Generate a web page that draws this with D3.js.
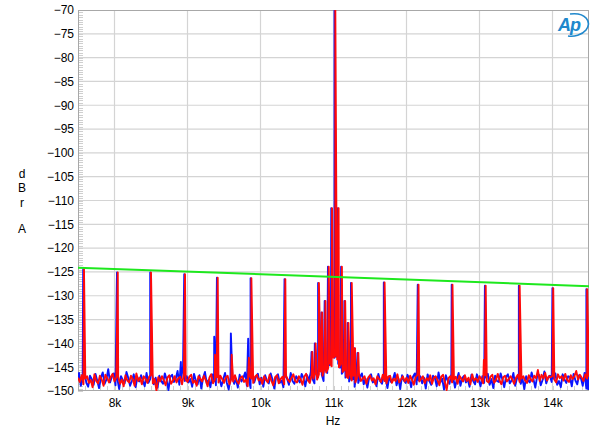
<!DOCTYPE html>
<html lang="en">
<head>
<meta charset="UTF-8">
<title>FFT spectrum</title>
<style>
    body { margin: 0; background: #fff; }
    svg text { font-family: "Liberation Sans", Arial, sans-serif; fill: #000; }
    .tick-label { font-size: 12px; }
</style>
<script src="https://cdn.jsdelivr.net/npm/d3@7"></script>
</head>
<body>
<script>
// noise floor, one value every 25 Hz from 7500 Hz to 14500 Hz
const freqStart = 7500;
const freqStep = 25;

const blueFloor = [
    -147.8,-146.2,-148.9,-147.1,-145.9,-148.3,-149.1,-146.8,-147.5,-148.7,-146.4,-147.9,-149.4,-147.2,-146.1,-148.5,-147.6,-145.4,-148.2,-147.0,
    -146.3,-148.8,-147.4,-149.6,-146.9,-147.7,-148.4,-146.0,-147.3,-148.9,-147.8,-146.5,-149.2,-147.1,-148.0,-146.7,-147.9,-149.0,-146.2,-148.3,
    -147.5,-146.4,-148.6,-147.2,-149.3,-146.8,-147.9,-148.5,-146.3,-147.6,-149.8,-147.0,-146.6,-148.1,-147.4,-145.8,-148.7,-147.3,-144.8,-147.9,
    -146.9,-148.2,-147.5,-149.1,-146.4,-147.8,-148.6,-146.7,-149.5,-147.2,-146.0,-148.4,-147.7,-149.2,-146.5,-147.9,-148.8,-146.3,-147.4,-149.0,
    -147.6,-146.2,-148.3,-149.7,-147.1,-146.8,-148.5,-147.4,-149.3,-146.6,-148.0,-147.3,-146.1,-148.9,-147.5,-149.4,-146.9,-148.2,-147.0,-146.4,
    -148.6,-147.2,-149.1,-146.7,-147.9,-148.4,-146.3,-147.6,-149.5,-147.0,-146.5,-148.3,-147.8,-149.2,-146.8,-147.4,-148.7,-146.2,-147.9,-148.5,
    -146.9,-147.6,-148.2,-146.4,-147.3,-149.0,-146.7,-147.8,-146.0,-147.5,-148.4,-146.3,-147.1,-145.8,-146.6,-147.9,-145.5,-146.2,-144.6,-143.8,
    -142.5,-143.0,-142.8,-144.2,-145.1,-146.4,-145.7,-147.2,-146.1,-148.0,-146.9,-147.5,-149.1,-146.6,-148.3,-147.0,-146.3,-148.6,-147.4,-149.3,
    -147.1,-146.5,-148.2,-147.7,-149.0,-146.4,-147.9,-148.5,-146.8,-147.3,-149.4,-146.9,-148.1,-147.6,-146.2,-148.8,-147.4,-149.6,-146.7,-147.8,
    -148.3,-146.6,-147.5,-149.2,-147.0,-146.3,-148.6,-147.7,-146.9,-148.4,-147.2,-149.5,-146.5,-147.9,-148.7,-146.8,-147.3,-149.0,-146.1,-148.2,
    -147.4,-149.7,-146.7,-147.8,-148.5,-146.4,-147.1,-149.3,-147.6,-146.2,-148.9,-147.3,-146.8,-148.2,-147.5,-149.1,-146.6,-147.9,-148.6,-146.5,
    -147.7,-149.0,-146.9,-148.3,-147.2,-146.4,-148.7,-147.5,-149.4,-146.8,-147.9,-148.1,-146.3,-147.6,-149.2,-147.0,-146.5,-148.4,-147.8,-146.2,
    -148.9,-147.3,-146.7,-148.5,-147.4,-149.6,-146.9,-147.8,-148.2,-146.1,-147.5,-149.3,-147.0,-146.6,-148.8,-147.7,-145.9,-148.4,-147.2,-146.8,
    -148.1,-147.4,-146.3,-148.7,-147.9,-149.2,-146.5,-147.6,-148.3,-146.9,-147.1,-149.0,-146.4,-147.8,-148.6,-146.7,-147.3,-148.9,-146.2,-149.5,
    -149.8
];

const redFloor = [
    -147.2,-148.1,-146.7,-148.6,-147.4,-146.9,-148.3,-147.7,-149.2,-146.5,-147.9,-148.4,-146.8,-147.6,-148.9,-146.6,-147.3,-148.2,-147.0,-146.4,
    -148.0,-147.1,-146.9,-148.5,-147.6,-149.0,-146.7,-147.8,-148.2,-146.8,-147.5,-148.9,-146.3,-147.9,-147.2,-148.6,-146.9,-147.4,-148.3,-147.0,
    -146.6,-148.4,-147.5,-149.9,-147.1,-148.0,-146.9,-147.7,-148.8,-147.2,-146.7,-148.5,-147.8,-146.9,-148.2,-147.3,-147.0,-148.6,-146.5,-147.6,
    -148.1,-147.0,-146.6,-148.3,-147.8,-148.9,-146.9,-147.4,-148.0,-146.8,-147.7,-149.0,-147.2,-146.5,-148.4,-147.6,-147.1,-148.2,-146.8,-147.5,
    -148.3,-147.1,-146.8,-148.6,-147.5,-148.0,-146.7,-147.9,-148.5,-147.2,-146.9,-148.1,-147.6,-149.0,-146.8,-147.4,-148.3,-147.0,-146.6,-147.8,
    -147.3,-148.5,-146.9,-147.7,-148.2,-146.6,-147.9,-148.8,-147.1,-146.7,-148.4,-147.5,-147.0,-148.6,-146.8,-147.6,-148.1,-147.2,-146.5,-147.9,
    -148.2,-146.9,-147.5,-148.7,-147.0,-146.4,-147.8,-148.3,-146.7,-147.4,-146.2,-147.6,-146.5,-145.9,-146.8,-145.4,-146.1,-145.3,-144.2,-144.8,
    -143.0,-142.6,-143.4,-145.0,-144.3,-146.0,-145.6,-146.9,-147.3,-146.5,-147.8,-146.8,-148.2,-147.1,-146.6,-147.9,-147.4,-146.9,-148.5,-147.2,
    -146.7,-147.8,-147.3,-148.6,-146.9,-147.5,-148.1,-146.6,-147.9,-148.4,-147.0,-146.8,-148.3,-147.4,-147.9,-146.5,-148.2,-147.6,-146.9,-148.0,
    -147.2,-148.3,-146.8,-147.6,-148.7,-147.1,-146.6,-148.0,-147.5,-146.9,-148.4,-147.3,-147.8,-146.7,-148.5,-147.2,-146.9,-147.7,-148.8,-147.0,
    -146.6,-148.1,-149.8,-147.3,-146.9,-148.2,-147.6,-147.0,-148.5,-146.8,-147.4,-148.0,-146.7,-147.9,-147.2,-148.6,-146.5,-147.8,-147.3,-148.1,
    -146.9,-147.5,-148.4,-146.7,-147.9,-148.2,-147.0,-146.6,-148.3,-147.7,-146.4,-147.8,-148.6,-147.1,-146.8,-148.0,-147.5,-146.9,-147.6,-148.5,
    -147.2,-146.6,-148.1,-147.4,-146.9,-147.8,-148.3,-146.7,-147.5,-148.0,-146.8,-147.3,-145.6,-147.9,-146.6,-147.4,-146.2,-147.8,-146.9,-147.1,
    -146.8,-147.6,-148.2,-146.5,-147.3,-146.9,-147.8,-146.4,-147.7,-148.1,-146.7,-147.5,-146.9,-145.8,-147.6,-146.6,-147.2,-147.9,-146.5,-147.4,
    -147.0
];

// spuriae seen in both channels (Hz, dBrA)
const spurFreqs  = [7582, 8045, 8500, 8966, 9414, 9875, 10340, 11700, 12165, 12630, 13085, 13550, 14010, 14475];
const spurLevels = [-124.4, -125.1, -125.1, -125.5, -126.2, -126.3, -126.5, -127.2, -127.7, -127.7, -127.9, -127.9, -128.4, -128.6];

// 11.025 kHz tone and its sidebands
const toneFreqs  = [10710, 10755, 10800, 10845, 10890, 10935, 10980, 11025, 11070, 11115, 11160, 11205, 11250, 11295, 11340];
const toneLevels = [-141.8, -140.0, -127.3, -133.5, -131.1, -123.9, -111.6, -70, -111.6, -123.9, -131.1, -135.7, -127.3, -141.0, -142.0];

// smaller spuriae, per channel
const blueExtraFreqs  = [8920, 9377, 9605, 9842];
const blueExtraLevels = [-143.9, -138.6, -137.9, -139.0];
const redExtraFreqs   = [9377, 9605, 9842, 13060];
const redExtraLevels  = [-142.4, -142.4, -143.0, -143.5];

// green limit line
const limitFreqs  = [7500, 14500];
const limitLevels = [-124.1, -128.0];

const yTicks = d3.range(-150, -69, 5);
const xTicks = [8000, 9000, 10000, 11000, 12000, 13000, 14000];

const width = 600, height = 437;
const margin = { top: 10, right: 11, bottom: 46, left: 78 };
const innerW = width - margin.left - margin.right;
const innerH = height - margin.top - margin.bottom;

const x = d3.scaleLinear().domain([7500, 14500]).range([0, innerW]);
const y = d3.scaleLinear().domain([-150, -70]).range([innerH, 0]);

function buildSeries(floor, extraF, extraL) {
    const pts = floor.map((v, i) => [freqStart + i * freqStep, v]);
    spurFreqs.forEach((f, i) => pts.push([f, spurLevels[i]]));
    toneFreqs.forEach((f, i) => pts.push([f, toneLevels[i]]));
    extraF.forEach((f, i) => pts.push([f, extraL[i]]));
    return pts.sort((a, b) => a[0] - b[0]);
}

const blueData = buildSeries(blueFloor, blueExtraFreqs, blueExtraLevels);
const redData = buildSeries(redFloor, redExtraFreqs, redExtraLevels);

const svg = d3.select('body').append('svg')
    .attr('width', width)
    .attr('height', height);

const g = svg.append('g').attr('transform', `translate(${margin.left},${margin.top})`);

svg.append('defs').append('clipPath').attr('id', 'plot-clip')
    .append('rect').attr('width', innerW).attr('height', innerH);

// grid
g.append('g').selectAll('line').data(yTicks.slice(1, -1)).enter().append('line')
    .attr('x1', 0).attr('x2', innerW)
    .attr('y1', d => y(d)).attr('y2', d => y(d))
    .attr('stroke', '#d4d4d4').attr('stroke-width', 1.2);

g.append('g').selectAll('line').data(xTicks).enter().append('line')
    .attr('x1', d => x(d)).attr('x2', d => x(d))
    .attr('y1', 0).attr('y2', innerH)
    .attr('stroke', '#d4d4d4').attr('stroke-width', 1.2);

// minor ticks
g.append('g').selectAll('line').data(d3.range(-150, -70, 0.5)).enter().append('line')
    .attr('x1', 0).attr('x2', 5)
    .attr('y1', d => Math.round(y(d)) + 0.5).attr('y2', d => Math.round(y(d)) + 0.5)
    .attr('stroke', '#cfcfcf').attr('stroke-width', 1);

g.append('g').selectAll('line').data(d3.range(7600, 14500, 100)).enter().append('line')
    .attr('x1', d => Math.round(x(d)) + 0.5).attr('x2', d => Math.round(x(d)) + 0.5)
    .attr('y1', innerH).attr('y2', innerH - 5)
    .attr('stroke', '#cfcfcf').attr('stroke-width', 1);

// frame
g.append('rect')
    .attr('x', 0.5).attr('y', 0.5)
    .attr('width', innerW - 1).attr('height', innerH - 1)
    .attr('fill', 'none').attr('stroke', '#a8a8a8').attr('stroke-width', 1);

// axes
const yAxis = d3.axisLeft(y).tickValues(yTicks).tickSize(0).tickPadding(4);
g.append('g').call(yAxis)
    .call(a => a.select('.domain').remove())
    .selectAll('text').attr('class', 'tick-label');

const xAxis = d3.axisBottom(x).tickValues(xTicks).tickSize(0).tickPadding(7)
    .tickFormat(d => `${d / 1000}k`);
g.append('g').attr('transform', `translate(0,${innerH})`).call(xAxis)
    .call(a => a.select('.domain').remove())
    .selectAll('text').attr('class', 'tick-label');

// traces
const line = d3.line().x(d => x(d[0])).y(d => y(d[1]));
const plot = g.append('g').attr('clip-path', 'url(#plot-clip)');

plot.append('path').datum(blueData)
    .attr('d', line).attr('fill', 'none')
    .attr('transform', 'translate(-0.8,0)')
    .attr('stroke', '#0a14ff').attr('stroke-width', 1.9).attr('stroke-linejoin', 'round');

plot.append('path').datum(redData)
    .attr('d', line).attr('fill', 'none')
    .attr('stroke', '#ff0a0a').attr('stroke-width', 1.9).attr('stroke-linejoin', 'round');

plot.append('path').datum(limitFreqs.map((f, i) => [f, limitLevels[i]]))
    .attr('d', line).attr('fill', 'none')
    .attr('stroke', '#1ee81e').attr('stroke-width', 2);

// axis titles
const yTitle = svg.append('g').attr('class', 'tick-label');
[['d', 178], ['B', 192], ['r', 207], ['A', 233]].forEach(([ch, yy]) => {
    yTitle.append('text').attr('x', 22).attr('y', yy)
        .attr('text-anchor', 'middle').attr('font-size', 12).text(ch);
});

svg.append('text')
    .attr('x', margin.left + innerW / 2 - 0.5).attr('y', 425)
    .attr('text-anchor', 'middle').attr('font-size', 12).text('Hz');

// AP logo
const logo = svg.append('g').attr('transform', 'translate(556,12)');
logo.append('text')
    .attr('x', 2).attr('y', 19)
    .attr('font-size', 18).attr('font-style', 'italic').attr('font-weight', 'bold')
    .style('fill', '#2088cc').style('letter-spacing', '-1px').text('Ap');
logo.append('path')
    .attr('d', 'M14,2 C30,0 36,10 30,18 C26,23 18,25 12,24')
    .attr('fill', 'none').attr('stroke', '#2088cc').attr('stroke-width', 1.6);
</script>
</body>
</html>
